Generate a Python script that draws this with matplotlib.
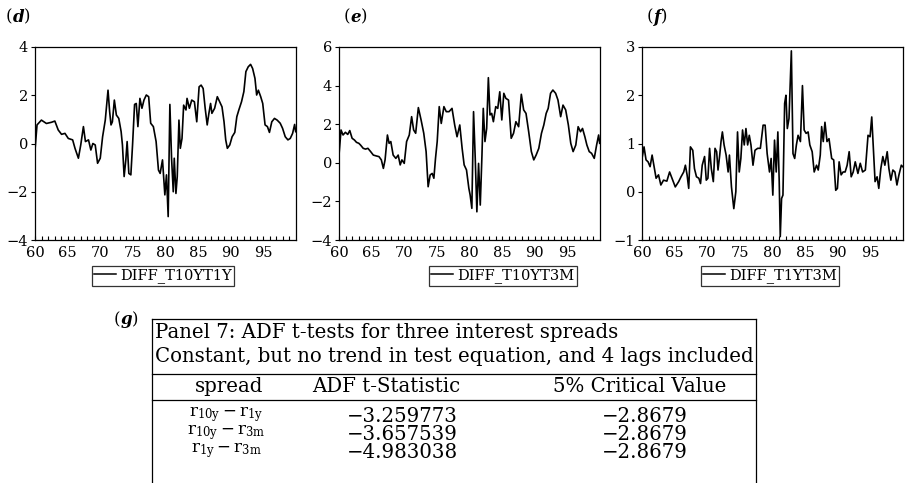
import matplotlib
matplotlib.use("Agg")
import matplotlib.pyplot as plt
from matplotlib.lines import Line2D

plt.rcParams['font.family'] = 'DejaVu Serif'
plt.rcParams['mathtext.fontset'] = 'dejavuserif'

# interest rate spreads, monthly 1960-1999 (x in years since 1900)
d_x = [60.00, 60.31, 60.98, 61.75, 62.53, 63.04, 63.56, 64.07, 64.59, 65.10,
       65.77, 66.13, 66.65, 67.01, 67.42, 67.73, 68.20, 68.56, 68.87, 69.23,
       69.59, 70.00, 70.36, 70.77, 71.19, 71.44, 71.65, 71.86, 72.16, 72.47,
       72.84, 73.20, 73.40, 73.66, 73.92, 74.12, 74.38, 74.69, 74.95, 75.26,
       75.52, 75.77, 76.08, 76.39, 76.70, 77.06, 77.42, 77.73, 78.14, 78.56,
       78.92, 79.18, 79.54, 79.90, 80.15, 80.41, 80.67, 80.93, 81.19, 81.34,
       81.60, 81.80, 82.06, 82.27, 82.53, 82.78, 83.14, 83.30, 83.66, 84.02,
       84.43, 84.79, 85.15, 85.46, 85.77, 86.08, 86.39, 86.65, 86.91, 87.11,
       87.53, 87.94, 88.30, 88.66, 88.97, 89.23, 89.48, 89.85, 90.21, 90.62,
       90.93, 91.24, 91.65, 92.01, 92.32, 92.68, 93.04, 93.35, 93.71, 93.97,
       94.23, 94.59, 94.90, 95.26, 95.62, 95.93, 96.29, 96.70, 97.11, 97.58,
       97.94, 98.35, 98.76, 99.12, 99.48, 99.79, 99.95]
d_y = [-0.27, 0.77, 0.97, 0.83, 0.88, 0.93, 0.56, 0.38, 0.42, 0.21,
       0.15, -0.20, -0.61, -0.06, 0.70, 0.08, 0.15, -0.27, 0.00, -0.06,
       -0.82, -0.61, 0.28, 0.97, 2.21, 1.32, 0.77, 0.90, 1.80, 1.18,
       1.04, 0.49, -0.06, -1.37, -0.68, 0.08, -1.24, -1.30, -0.06, 1.62,
       1.66, 0.70, 1.87, 1.46, 1.80, 2.01, 1.94, 0.84, 0.70, 0.08,
       -1.10, -1.24, -0.68, -2.13, -1.30, -3.03, 1.62, -0.61, -2.00, -0.61,
       -2.07, -1.37, 0.97, -0.20, 0.21, 1.59, 1.39, 1.87, 1.46, 1.80,
       1.73, 0.90, 2.35, 2.42, 2.28, 1.46, 0.77, 1.25, 1.66, 1.25,
       1.46, 1.94, 1.73, 1.52, 0.90, 0.15, -0.20, -0.06, 0.28, 0.46,
       1.11, 1.39, 1.73, 2.15, 2.98, 3.18, 3.28, 3.11, 2.70, 2.01,
       2.21, 1.94, 1.66, 0.77, 0.70, 0.46, 0.90, 1.04, 0.97, 0.84,
       0.63, 0.28, 0.15, 0.21, 0.42, 0.79, 0.49]

e_x = [60.00, 60.31, 60.62, 60.98, 61.34, 61.65, 62.01, 62.37, 62.68, 63.04,
       63.30, 63.71, 64.07, 64.43, 64.85, 65.26, 65.77, 66.13, 66.49, 66.80,
       67.06, 67.42, 67.68, 67.94, 68.30, 68.71, 69.07, 69.38, 69.64, 70.00,
       70.36, 70.77, 71.13, 71.44, 71.75, 72.16, 72.58, 72.99, 73.35, 73.66,
       73.97, 74.28, 74.54, 74.79, 75.05, 75.36, 75.67, 76.08, 76.44, 76.86,
       77.32, 77.73, 78.09, 78.51, 78.87, 79.18, 79.54, 79.90, 80.10, 80.36,
       80.62, 80.88, 81.13, 81.39, 81.65, 81.91, 82.11, 82.37, 82.63, 82.89,
       83.14, 83.40, 83.66, 84.02, 84.33, 84.64, 84.95, 85.26, 85.57, 85.98,
       86.39, 86.75, 87.11, 87.53, 87.94, 88.30, 88.66, 89.07, 89.48, 89.85,
       90.21, 90.62, 91.03, 91.39, 91.75, 92.06, 92.42, 92.78, 93.20, 93.56,
       93.97, 94.33, 94.74, 95.15, 95.52, 95.88, 96.29, 96.65, 97.01, 97.32,
       97.68, 97.99, 98.35, 98.71, 99.12, 99.48, 99.79, 99.95]
e_y = [0.40, 1.70, 1.44, 1.58, 1.47, 1.67, 1.27, 1.18, 1.06, 1.01,
       0.92, 0.75, 0.71, 0.75, 0.58, 0.40, 0.35, 0.32, 0.15, -0.29,
       0.15, 1.44, 1.01, 1.10, 0.40, 0.23, 0.40, -0.11, 0.15, -0.03,
       1.10, 1.44, 2.39, 1.70, 1.53, 2.86, 2.22, 1.53, 0.58, -1.24,
       -0.63, -0.55, -0.80, 0.23, 1.10, 2.91, 2.04, 2.91, 2.65, 2.65,
       2.82, 1.96, 1.35, 1.96, 0.75, -0.11, -0.37, -1.32, -1.67, -2.36,
       2.65, 0.23, -2.54, -0.03, -2.19, 0.40, 2.82, 1.10, 1.78, 4.41,
       2.48, 2.56, 2.13, 2.91, 2.82, 3.68, 2.22, 3.60, 3.34, 3.25,
       1.27, 1.53, 2.13, 1.87, 3.55, 2.74, 2.56, 1.61, 0.58, 0.15,
       0.40, 0.75, 1.53, 1.96, 2.56, 2.82, 3.60, 3.77, 3.60, 3.25,
       2.39, 2.99, 2.74, 1.96, 1.01, 0.58, 0.92, 1.87, 1.61, 1.78,
       1.35, 0.92, 0.58, 0.49, 0.23, 0.92, 1.44, 1.01]

f_x = [60.00, 60.31, 60.62, 60.93, 61.24, 61.55, 61.86, 62.16, 62.53, 62.89,
       63.30, 63.81, 64.23, 64.59, 65.10, 65.62, 65.98, 66.39, 66.65, 66.91,
       67.16, 67.42, 67.78, 68.04, 68.35, 68.71, 68.97, 69.23, 69.59, 69.85,
       70.10, 70.36, 70.62, 70.93, 71.19, 71.44, 71.65, 71.91, 72.11, 72.32,
       72.58, 72.89, 73.20, 73.40, 73.71, 74.07, 74.38, 74.64, 74.90, 75.15,
       75.41, 75.67, 75.93, 76.19, 76.44, 76.70, 77.01, 77.32, 77.73, 78.14,
       78.56, 78.87, 79.18, 79.54, 79.79, 80.05, 80.31, 80.57, 80.82, 81.03,
       81.19, 81.39, 81.60, 81.86, 82.06, 82.27, 82.53, 82.89, 83.14, 83.40,
       83.66, 83.92, 84.28, 84.59, 84.85, 85.15, 85.46, 85.72, 86.08, 86.39,
       86.75, 87.01, 87.32, 87.53, 87.78, 88.04, 88.35, 88.66, 89.07, 89.38,
       89.69, 89.95, 90.21, 90.52, 90.82, 91.13, 91.44, 91.75, 92.06, 92.37,
       92.68, 93.09, 93.45, 93.81, 94.23, 94.64, 94.95, 95.21, 95.46, 95.72,
       96.03, 96.29, 96.60, 96.91, 97.22, 97.58, 97.84, 98.14, 98.45, 98.76,
       99.07, 99.38, 99.74, 99.95]
f_y = [0.69, 0.93, 0.66, 0.62, 0.52, 0.76, 0.52, 0.28, 0.35, 0.14,
       0.24, 0.22, 0.41, 0.28, 0.10, 0.21, 0.31, 0.41, 0.55, 0.35,
       0.07, 0.93, 0.86, 0.48, 0.31, 0.28, 0.17, 0.55, 0.73, 0.24,
       0.28, 0.90, 0.48, 0.21, 0.90, 0.83, 0.45, 0.76, 1.04, 1.24,
       0.97, 0.76, 0.41, 0.76, 0.10, -0.35, 0.00, 1.24, 0.41, 0.69,
       1.28, 0.97, 1.31, 0.97, 1.17, 0.97, 0.55, 0.86, 0.90, 0.90,
       1.38, 1.38, 0.79, 0.41, 0.69, -0.07, 1.07, 0.41, 1.24, 0.21,
       -0.93, -0.14, -0.07, 1.83, 2.00, 1.31, 1.52, 2.92, 0.79, 0.69,
       0.97, 1.17, 1.04, 2.20, 1.28, 1.21, 1.24, 0.97, 0.83, 0.41,
       0.55, 0.45, 0.76, 1.35, 1.04, 1.44, 1.04, 1.10, 0.69, 0.66,
       0.03, 0.07, 0.62, 0.35, 0.41, 0.41, 0.55, 0.83, 0.31, 0.41,
       0.62, 0.38, 0.59, 0.41, 0.45, 1.17, 1.14, 1.55, 0.90, 0.21,
       0.31, 0.07, 0.48, 0.73, 0.55, 0.83, 0.48, 0.24, 0.45, 0.41,
       0.14, 0.35, 0.55, 0.52]

panels = [
    ("d", "DIFF_T10YT1Y", d_x, d_y, (-4, 4), [-4, -2, 0, 2, 4]),
    ("e", "DIFF_T10YT3M", e_x, e_y, (-4, 6), [-4, -2, 0, 2, 4, 6]),
    ("f", "DIFF_T1YT3M", f_x, f_y, (-1, 3), [-1, 0, 1, 2, 3]),
]
xticks = [60, 65, 70, 75, 80, 85, 90, 95]

# ADF table
spreads = [r"$\mathrm{r_{10y} - r_{1y}}$",
           r"$\mathrm{r_{10y} - r_{3m}}$",
           r"$\mathrm{r_{1y} - r_{3m}}$"]
adf_stat = ["\u22123.259773", "\u22123.657539", "\u22124.983038"]
crit_5 = ["\u22122.8679", "\u22122.8679", "\u22122.8679"]

W, H = 905, 483
fig = plt.figure(figsize=(W / 100, H / 100), dpi=100)
renderer = fig.canvas.get_renderer()


def panel_tag(x, y, letter, size=12):
    """'(x)' with the letter in bold italic, pieces placed side by side (pixels)."""
    t1 = fig.text(x / W, 1 - y / H, "(", fontsize=size, va="center")
    x1 = t1.get_window_extent(renderer).x1
    t2 = fig.text(x1 / W, 1 - y / H, letter, fontsize=size,
                  fontweight="bold", fontstyle="italic", va="center")
    x2 = t2.get_window_extent(renderer).x1
    fig.text(x2 / W, 1 - y / H, ")", fontsize=size, va="center")


ax_left = [35, 339, 642]
label_x = [6, 344, 647]
legend_cx = [163, 503, 770]

for i, (tag, name, x, y, ylim, yt) in enumerate(panels):
    ax = fig.add_axes([ax_left[i] / W, (H - 240) / H, 261 / W, 193 / H])
    ax.plot(x, y, color="black", lw=1.2)
    ax.set_xlim(60, 100)
    ax.set_ylim(*ylim)
    ax.set_yticks(yt)
    ax.set_xticks(xticks)
    ax.set_xticks(range(60, 100), minor=True)
    ax.tick_params(axis="x", which="both", direction="in", length=3,
                   width=0.8, labelsize=10.5, pad=4)
    ax.tick_params(axis="y", direction="out", length=3, width=0.8,
                   labelsize=10.5, pad=2)
    for s in ax.spines.values():
        s.set_linewidth(0.9)
    leg = ax.legend([Line2D([0], [0], color="black", lw=1.1)], [name],
                    loc="center", bbox_to_anchor=(legend_cx[i] / W, 1 - 276 / H),
                    bbox_transform=fig.transFigure, fontsize=10.5,
                    frameon=True, fancybox=False, edgecolor="black",
                    handlelength=1.5, handletextpad=0.3, borderpad=0.15,
                    borderaxespad=0)
    leg.get_frame().set_linewidth(0.9)
    panel_tag(label_x[i], 17, tag)

# table drawn in pixel coordinates
tab = fig.add_axes([0, 0, 1, 1])
tab.set_xlim(0, W)
tab.set_ylim(H, 0)
tab.axis("off")

L, R, T = 152, 756, 319
lk = dict(color="black", lw=0.9)
tab.plot([L, R], [T, T], **lk)
tab.plot([L, L], [T, H], **lk)
tab.plot([R, R], [T, H], **lk)
tab.plot([L, R], [374, 374], **lk)
tab.plot([L, R], [400, 400], **lk)

tk = dict(fontsize=14.2, va="center")
tab.text(155, 333, "Panel 7: ADF t-tests for three interest spreads", **tk)
tab.text(155, 357, "Constant, but no trend in test equation, and 4 lags included", **tk)
tab.text(229, 387, "spread", ha="center", **tk)
tab.text(386, 387, "ADF t-Statistic", ha="center", **tk)
tab.text(640, 387, "5% Critical Value", ha="center", **tk)
row_y = [416, 434, 452]
for j in range(3):
    tab.text(226, row_y[j] - 1, spreads[j], ha="center", fontsize=12, va="center")
    tab.text(402, row_y[j], adf_stat[j], ha="center", **tk)
    tab.text(645, row_y[j], crit_5[j], ha="center", **tk)

panel_tag(114, 320, "g")

fig.savefig("out.png", dpi=100)
